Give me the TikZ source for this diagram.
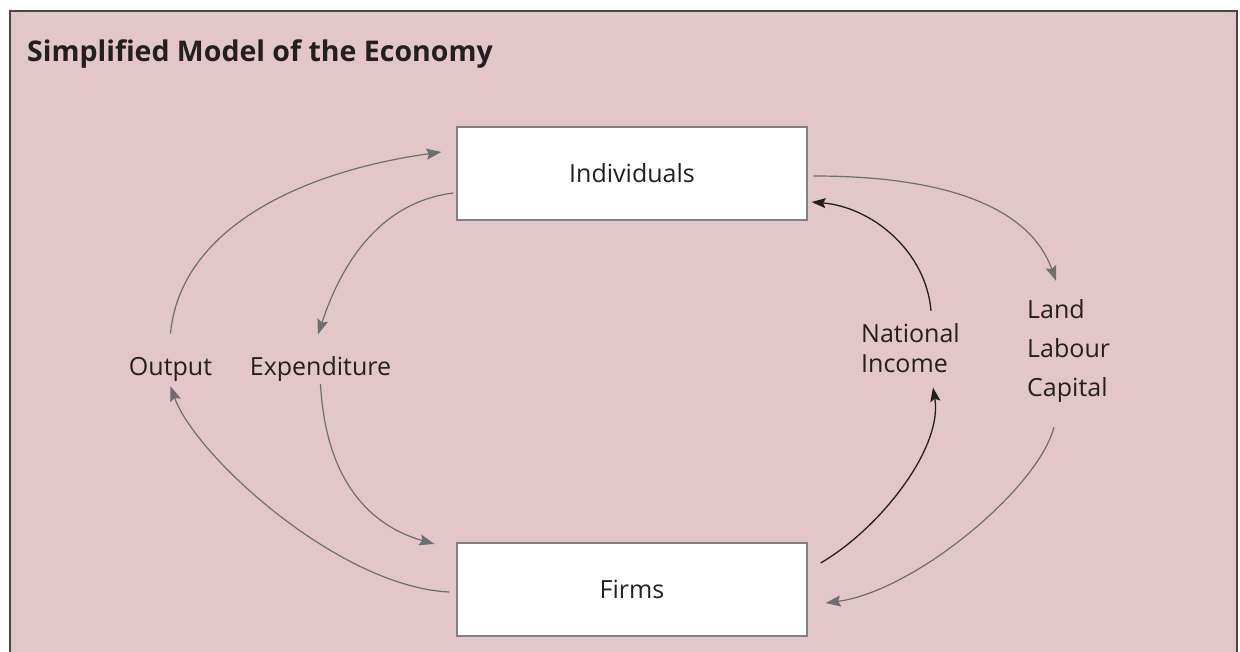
\documentclass[tikz,border=0pt]{standalone}
\usepackage{fontspec}
\setmainfont{Open Sans}
\usetikzlibrary{arrows.meta}
\definecolor{bgpink}{HTML}{E2C6C8}
\definecolor{framecol}{HTML}{4A4547}
\definecolor{boxline}{HTML}{808082}
\definecolor{grayarrow}{HTML}{6D6E71}
\definecolor{darkarrow}{HTML}{231F20}
\definecolor{txt}{HTML}{231F20}
\tikzset{
  frame/.style={draw=framecol, line width=2pt, fill=bgpink},
  entity/.style={draw=boxline, line width=1.3pt, fill=white, minimum width=350pt, minimum height=93pt, inner sep=0pt, text=txt, font=\fontsize{25}{30}\selectfont},
  lbl/.style={inner sep=0pt, text=txt, font=\fontsize{25}{30}\selectfont},
  titlestyle/.style={inner sep=0pt, text=txt, font=\fontsize{28.5}{34}\selectfont\bfseries},
  grayflow/.style={draw=grayarrow, line width=1.2pt, -{Stealth[length=15pt,width=11pt,inset=2.5pt]}},
  darkflow/.style={draw=darkarrow, line width=1.3pt, -{Stealth[length=14pt,width=10pt,inset=2.5pt]}}
}
\begin{document}
\begin{tikzpicture}[x=1pt,y=-1pt]
\useasboundingbox (0,0) rectangle (1240,652);
\clip (0,0) rectangle (1240,652);
\fill[white] (0,0) rectangle (1240,652);
\draw[frame] (10,11) rectangle (1237,680);

\node[titlestyle, anchor=base west] (title) at (27,62) {Simplified Model of the Economy};

\node[entity] (ind) at (632,173.5) {Individuals};
\node[entity] (firms) at (632,589.5) {Firms};

\node[lbl, anchor=base] (out) at (170.5,375) {Output};
\node[lbl, anchor=base] (exp) at (320.5,375) {Expenditure};
\node[lbl, anchor=base west] (ni1) at (861,343) {National};
\node[lbl, anchor=base west] (ni2) at (861,373) {Income};
\node[lbl, anchor=base west] (lab1) at (1027,319) {Land};
\node[lbl, anchor=base west] (lab2) at (1027,358) {Labour};
\node[lbl, anchor=base west] (lab3) at (1027,396) {Capital};

% Output -> Individuals
\draw[grayflow] ([yshift=23pt]out.north) .. controls +(9,-100) and +(-150,21) .. ([xshift=-15pt,yshift=21.5pt]ind.west);
% Individuals -> Expenditure
\draw[grayflow] ([xshift=-3pt,yshift=-19.5pt]ind.west) .. controls +(-80,10) and +(20,-60) .. ([xshift=-2.5pt,yshift=21.5pt]exp.north);
% Individuals -> Land Labour Capital
\draw[grayflow] ([xshift=6pt,yshift=-2.5pt]ind.east) .. controls +(140,0) and +(-25,-70) .. ([yshift=19pt]lab1.north);
% National Income -> Individuals
\draw[darkflow] ([xshift=20.5pt,yshift=13pt]ni1.north) .. controls +(-5,-60) and +(60,5) .. ([xshift=4pt,yshift=-28.5pt]ind.east);
% Expenditure -> Firms
\draw[grayflow] ([yshift=-3pt]exp.south) .. controls +(5,90) and +(-70,-20) .. ([xshift=-22pt,yshift=45.5pt]firms.west);
% Firms -> Output
\draw[grayflow] ([xshift=-7pt,yshift=-2.5pt]firms.west) .. controls +(-110,-5) and +(25,70) .. ([yshift=-5pt]out.south);
% Firms -> National Income
\draw[darkflow] ([xshift=13pt,yshift=26.5pt]firms.east) .. controls +(60,-35) and +(10,60) .. ([xshift=28.5pt,yshift=-14pt]ni2.south);
% Land Labour Capital -> Firms
\draw[grayflow] ([xshift=-13.5pt,yshift=-25pt]lab3.south) .. controls +(-15,60) and +(90,-12) .. ([xshift=18pt,yshift=-13.5pt]firms.east);
\end{tikzpicture}
\end{document}
